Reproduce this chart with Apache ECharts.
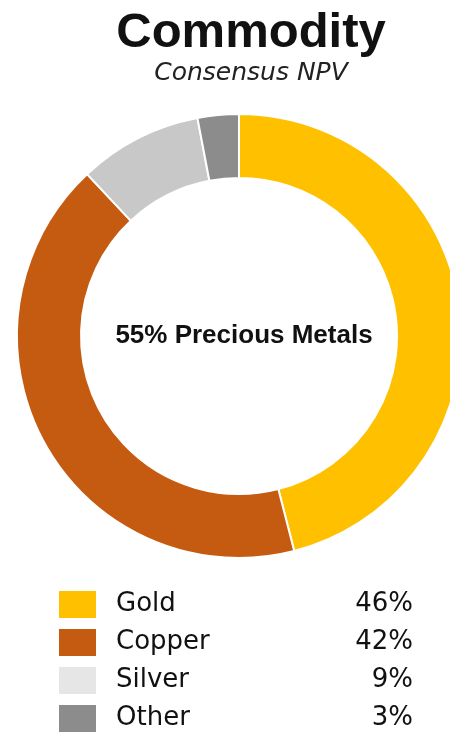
<!DOCTYPE html>
<html>
<head>
<meta charset="utf-8">
<script src="https://cdn.jsdelivr.net/npm/echarts@6/dist/echarts.min.js"></script>
<style>
  html, body { margin: 0; padding: 0; background: #fff; }
  #chart { width: 450px; height: 734px; }
</style>
</head>
<body>
<div id="chart"></div>
<script>
const commodities = ['Gold', 'Copper', 'Silver', 'Other']
const shares = [46, 42, 9, 3]
const sliceColors = ['#FFC000', '#C55A11', '#C8C8C8', '#8C8C8C']
const legendColors = ['#FFC000', '#C55A11', '#E6E6E6', '#8C8C8C']
const centerText = '55% Precious Metals'

const chart = echarts.init(document.getElementById('chart'))

chart.setOption({
  animation: false,
  title: [
    {
      text: 'Commodity',
      left: 246, top: 4, textAlign: 'center',
      textStyle: { fontFamily: 'Liberation Sans', fontWeight: 'bold', fontSize: 49, color: '#111' }
    },
    {
      text: 'Consensus NPV',
      left: 246, top: 56, textAlign: 'center',
      textStyle: { fontFamily: 'DejaVu Sans', fontStyle: 'italic', fontWeight: 'normal', fontSize: 25, color: '#222' }
    },
    {
      text: centerText,
      left: 239, top: 318, textAlign: 'center',
      textStyle: { fontFamily: 'Liberation Sans', fontWeight: 'bold', fontSize: 26, color: '#111' }
    }
  ],
  legend: {
    orient: 'vertical',
    left: 57, top: 589, height: 200,
    padding: 0,
    itemWidth: 39, itemHeight: 29, itemGap: 7,
    icon: 'rect',
    selectedMode: false,
    data: commodities.map((name, i) => ({ name, itemStyle: { color: legendColors[i] } })),
    formatter: name => `{n|${name}}{v|${shares[commodities.indexOf(name)]}%}`,
    textStyle: {
      fontFamily: 'DejaVu Sans', fontSize: 26, color: '#111',
      rich: {
        n: { fontFamily: 'DejaVu Sans', fontSize: 26, color: '#111', width: 200, lineHeight: 29, padding: [0, 0, 0, 14] },
        v: { fontFamily: 'DejaVu Sans', fontSize: 26, color: '#111', width: 97, lineHeight: 29, align: 'right' }
      }
    }
  },
  series: [
    {
      type: 'pie',
      center: [239, 336],
      radius: [158, 222],
      startAngle: 90,
      clockwise: true,
      silent: true,
      label: { show: false },
      labelLine: { show: false },
      itemStyle: { borderColor: '#fff', borderWidth: 2 },
      data: commodities.map((name, i) => ({
        name, value: shares[i], itemStyle: { color: sliceColors[i] }
      }))
    }
  ]
})
</script>
</body>
</html>
